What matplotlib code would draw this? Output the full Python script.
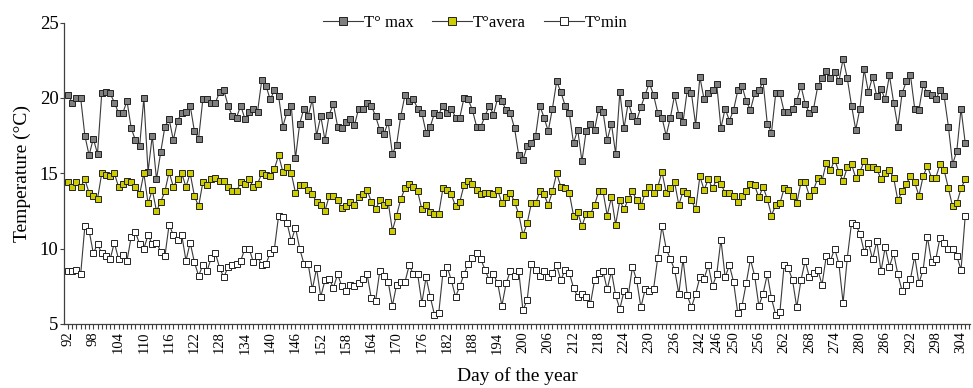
import numpy as np
import matplotlib
matplotlib.use("Agg")
import matplotlib.pyplot as plt
from matplotlib.ticker import FixedLocator, MultipleLocator

# -- Daily air temperature, day 92 to day 305 --
days = np.arange(92, 306)

t_max = [
    20.2, 19.7, 20.0, 20.0, 17.5, 16.2, 17.3, 16.3, 20.3, 20.4, 20.3, 19.7, 19.0, 19.0, 19.8, 18.0,
    17.2, 16.8, 20.0, 15.1, 17.5, 14.6, 16.4, 18.1, 18.6, 17.2, 18.5, 19.0, 19.1, 19.5, 17.8, 17.3,
    19.9, 19.9, 19.7, 19.7, 20.4,
    20.5, 19.5, 18.8, 18.7, 19.5, 18.6, 19.1, 19.3, 19.1, 21.2, 20.8, 19.9, 20.5, 20.1, 18.1, 19.1,
    19.5, 16.0, 18.3, 19.3, 18.8, 19.9, 17.5, 18.8, 17.2, 18.9, 19.6, 18.1, 18.0, 18.4, 18.6, 18.2,
    19.3, 19.3, 19.7,
    19.5, 18.8, 17.9, 17.6, 18.4, 16.3, 16.9, 18.8, 20.2, 19.8, 19.9, 19.3, 19.0, 17.7, 18.1, 19.0,
    18.9, 19.5, 19.0, 19.3, 18.7, 18.7, 20.0, 19.9, 19.2, 18.1, 18.1, 18.8, 19.5, 18.9, 20.0, 19.8,
    19.2, 19.0, 18.0, 16.2,
    15.9, 16.8, 17.0, 17.5, 19.5, 18.7, 17.8, 19.3, 21.1, 20.4, 19.5, 19.0, 17.0, 17.9, 15.8, 17.8,
    18.3, 17.9, 19.3, 19.1, 17.2, 18.3, 16.3, 20.4, 18.0, 19.7, 18.8, 18.5, 19.4, 20.2, 21.0, 20.2,
    19.0, 18.7, 17.5, 18.7,
    20.2, 18.9, 18.4, 20.5, 20.3, 18.2, 21.4, 19.9, 20.3, 20.5, 20.9, 18.0, 19.3, 18.5, 19.2, 20.5,
    20.8, 19.8, 19.2, 20.3, 20.5, 21.1, 18.3, 17.7, 20.3, 20.3, 19.1, 19.1, 19.3, 19.8, 20.8, 19.6,
    19.0, 19.3, 20.8,
    21.3, 21.8, 21.3, 21.7, 21.1, 22.6, 21.3, 19.5, 17.9, 19.3, 21.9, 20.4, 21.4, 20.1, 20.6, 19.9,
    21.5, 19.7, 18.1, 20.3, 21.1, 21.5, 19.3, 19.2, 20.9, 20.3, 20.2, 19.9, 20.5, 20.1, 18.1, 15.6,
    16.5, 19.3, 17.0,
]

t_avg = [
    14.4, 14.1, 14.4, 14.1, 14.6, 13.7, 13.5, 13.3, 15.0, 14.9, 14.8, 15.0, 14.1, 14.3, 14.5, 14.4,
    14.1, 13.6, 15.0, 13.0, 13.9, 12.5, 13.1, 13.8, 15.1, 14.1, 14.6, 15.0, 14.1, 15.0, 13.5, 12.8,
    14.4, 14.2, 14.6, 14.7, 14.5,
    14.5, 14.1, 13.8, 13.8, 14.4, 14.3, 14.6, 14.1, 14.3, 15.0, 14.9, 14.8, 15.3, 16.2, 15.1, 15.4,
    15.0, 13.7, 14.2, 14.2, 13.9, 13.6, 13.1, 12.9, 12.5, 13.5, 13.5, 13.2, 12.7, 12.8, 13.1, 12.9,
    13.4, 13.6, 13.9,
    13.1, 12.6, 13.2, 12.9, 13.1, 11.2, 12.2, 13.3, 14.0, 14.3, 14.1, 13.8, 12.6, 12.9, 12.4, 12.3,
    12.3, 14.0, 13.9, 13.6, 12.8, 13.1, 14.2, 14.5, 14.3, 13.9, 13.6, 13.7, 13.7, 13.6, 13.9, 13.0,
    13.4, 13.7, 13.1, 12.3,
    10.9, 11.7, 13.0, 13.0, 13.8, 13.6, 12.9, 13.8, 15.0, 14.1, 14.0, 13.7, 12.2, 12.4, 11.5, 12.3,
    12.3, 12.9, 13.8, 13.8, 12.2, 13.4, 11.6, 13.2, 12.6, 13.3, 13.8, 13.2, 12.8, 13.7, 14.1, 13.7,
    14.1, 15.1, 13.7, 14.0,
    14.4, 12.9, 13.8, 13.7, 13.2, 12.6, 14.8, 13.9, 14.6, 14.0, 14.6, 14.3, 13.7, 13.7, 13.5, 13.1,
    13.5, 13.8, 14.3, 14.2, 13.4, 14.1, 13.3, 12.2, 12.9, 13.0, 14.0, 13.9, 13.5, 13.0, 14.4, 14.4,
    13.5, 13.9, 14.7,
    14.5, 15.7, 15.2, 15.9, 15.1, 14.5, 15.4, 15.6, 14.7, 15.1, 15.8, 15.4, 15.4, 15.3, 14.6, 15.0,
    15.2, 14.7, 13.2, 13.8, 14.3, 14.8, 14.4, 13.5, 14.8, 15.5, 14.7, 14.7, 15.6, 15.2, 14.0, 12.8,
    13.0, 14.0, 14.6,
]

t_min = [
    8.5, 8.5, 8.6, 8.3, 11.5, 11.2, 9.7, 10.3, 9.7, 9.5, 9.3, 10.4, 9.3, 9.6, 9.2, 10.8,
    11.1, 10.3, 10.0, 10.9, 10.3, 10.4, 9.8, 9.5, 11.6, 10.9, 10.6, 10.9, 9.2, 10.4, 9.1, 8.2,
    8.9, 8.5, 9.4, 9.7, 8.7,
    8.1, 8.8, 8.9, 9.0, 9.2, 10.0, 10.0, 9.1, 9.5, 8.9, 9.0, 9.7, 10.0, 12.2, 12.1, 11.7,
    10.5, 11.4, 10.0, 9.0, 9.0, 7.3, 8.7, 6.8, 7.9, 8.0, 7.4, 8.3, 7.5, 7.2, 7.6, 7.5,
    7.7, 8.0, 8.3,
    6.7, 6.5, 8.5, 8.2, 7.8, 6.2, 7.6, 7.8, 7.8, 8.9, 8.3, 8.3, 6.4, 8.1, 6.8, 5.6,
    5.7, 8.4, 8.8, 7.9, 6.8, 7.5, 8.3, 9.0, 9.4, 9.7, 9.3, 8.6, 7.9, 8.3, 7.7, 6.2,
    7.7, 8.5, 8.2, 8.5,
    5.9, 6.6, 9.0, 8.6, 8.2, 8.5, 8.1, 8.4, 8.9, 7.9, 8.6, 8.4, 7.4, 6.8, 7.0, 6.8,
    6.3, 7.9, 8.4, 8.5, 7.3, 8.5, 6.9, 6.0, 7.2, 6.9, 8.8, 7.9, 6.1, 7.3, 7.2, 7.3,
    9.4, 11.5, 10.0, 9.3,
    8.6, 7.0, 9.3, 6.9, 6.1, 7.0, 8.1, 8.0, 8.9, 7.5, 8.3, 10.6, 8.1, 8.9, 7.8, 5.7,
    6.2, 7.7, 9.3, 8.2, 6.2, 7.0, 8.3, 6.7, 5.6, 5.8, 8.9, 8.7, 7.9, 6.1, 7.9, 9.2,
    8.1, 8.4, 8.6,
    7.6, 9.5, 9.2, 10.0, 9.0, 6.4, 9.4, 11.7, 11.6, 11.0, 9.8, 10.4, 9.3, 10.5, 8.5, 10.1,
    8.8, 9.7, 8.3, 7.2, 7.6, 8.0, 9.5, 7.7, 8.6, 10.8, 9.1, 9.3, 10.7, 10.4, 10.0, 10.0,
    9.5, 8.6, 12.2,
]

# Labelled days on the x axis
tick_days = list(range(92, 243, 6)) + [246] + list(range(250, 305, 6))
y_ticks = [5, 10, 15, 20, 25]

SERIF = ["Liberation Serif", "DejaVu Serif"]
plt.rcParams["font.family"] = SERIF
plt.rcParams["mathtext.fontset"] = "stix"

LINE_COLOR = "#3a3a3a"
AXIS_COLOR = "#404040"

fig = plt.figure(figsize=(9.73, 3.88), dpi=100)
ax = fig.add_axes([0.0658, 0.165, 0.931, 0.7766])

series = [
    (t_max, "#7f7f7f", "T° max"),
    (t_avg, "#cccc00", "T°avera"),
    (t_min, "#ffffff", "T°min"),
]
for values, face, label in series:
    ax.plot(
        days, values,
        color=LINE_COLOR, linewidth=0.8,
        marker="s", markersize=3.9,
        markerfacecolor=face, markeredgecolor="#222222", markeredgewidth=0.7,
        label=label,
    )

ax.set_xlim(91.05, 306.1)
ax.set_ylim(5, 25)

# Only the left and bottom spines are drawn
for side in ("top", "right"):
    ax.spines[side].set_visible(False)
for side in ("left", "bottom"):
    ax.spines[side].set_color(AXIS_COLOR)
    ax.spines[side].set_linewidth(0.9)

ax.xaxis.set_major_locator(FixedLocator(tick_days))
ax.xaxis.set_minor_locator(MultipleLocator(1))
ax.set_xticklabels([str(d) for d in tick_days], rotation=90, fontsize=10.5)
ax.tick_params(axis="x", which="both", direction="out", length=3.5,
               width=0.8, color=AXIS_COLOR, pad=2)

ax.set_yticks(y_ticks)
ax.set_yticklabels([str(v) for v in y_ticks], fontsize=13.5)
ax.tick_params(axis="y", direction="out", length=3, width=0.8,
               color=AXIS_COLOR, pad=1)

ax.set_xlabel("Day of the year", fontsize=14, labelpad=10)
ax.set_ylabel("Temperature (°C)", fontsize=14, labelpad=6)

ax.legend(
    loc="center", bbox_to_anchor=(0.454, 0.998), ncol=3,
    frameon=False, fontsize=12, handlelength=2.4, handletextpad=0.05,
    columnspacing=1.1, markerscale=1.6,
)

fig.savefig("out.png", dpi=100, facecolor="white")
